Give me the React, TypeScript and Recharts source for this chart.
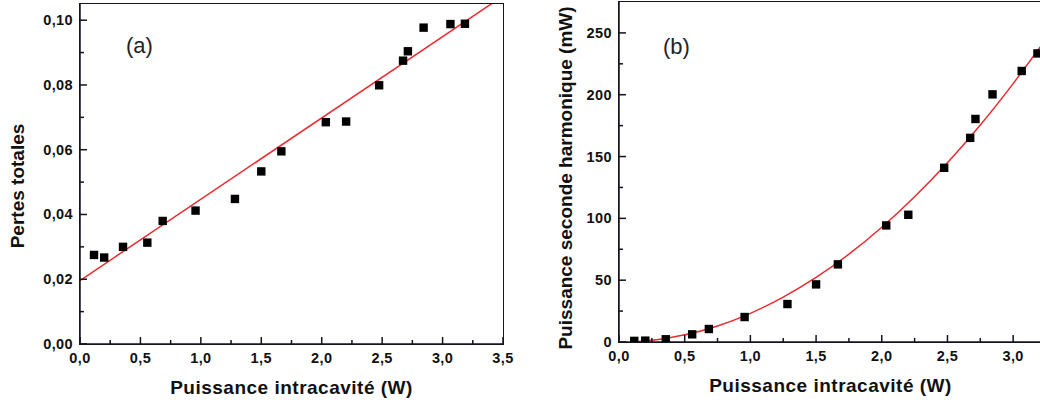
import React from 'react';
import { ComposedChart, XAxis, YAxis, Scatter, Line } from 'recharts';

// Shared intracavity power values (W)
const powerW = [0.116, 0.2, 0.356, 0.557, 0.684, 0.956, 1.282, 1.5, 1.666, 2.034, 2.202, 2.475, 2.673, 2.713, 2.843, 3.065, 3.185];
// (a) total losses
const lossValues = [0.0275, 0.0267, 0.030, 0.0313, 0.038, 0.0412, 0.0448, 0.0533, 0.0595, 0.0685, 0.0687, 0.0799, 0.0875, 0.0904, 0.0977, 0.0988, 0.0989];
// (a) linear fit endpoints
const lossFitX = [0, 3.41];
const lossFitY = [0.0196, 0.1052];
// (b) second harmonic power (mW)
const shgValues = [0.9, 1.1, 2.2, 6.2, 10.5, 20.2, 30.7, 46.6, 62.8, 94.3, 102.9, 140.9, 165.1, 180.4, 200.3, 219.2, 233.4];
// (b) fit curve
const shgFitX = [0.12, 0.3, 0.5, 0.75, 1.0, 1.25, 1.5, 1.75, 2.0, 2.25, 2.5, 2.75, 3.0, 3.25];
const shgFitY = [0.3, 2.1, 5.8, 13, 23.2, 36.3, 52.2, 71, 92.8, 117.5, 145, 175.5, 209, 245];

// ticks
const xTicksA = [0, 0.25, 0.5, 0.75, 1, 1.25, 1.5, 1.75, 2, 2.25, 2.5, 2.75, 3, 3.25, 3.5];
const yTicksA = [0, 0.01, 0.02, 0.03, 0.04, 0.05, 0.06, 0.07, 0.08, 0.09, 0.1];
const xTicksB = [0, 0.25, 0.5, 0.75, 1, 1.25, 1.5, 1.75, 2, 2.25, 2.5, 2.75, 3, 3.25];
const yTicksB = [0, 25, 50, 75, 100, 125, 150, 175, 200, 225, 250];
const domainXA = [0, 3.5];
const domainYA = [0, 0.105];
const domainXB = [0, 3.25];
const domainYB = [0, 275];

const lossData = powerW.map((x, i) => ({ x, y: lossValues[i] }));
const lossFit = lossFitX.map((x, i) => ({ x, y: lossFitY[i] }));
const shgData = powerW.map((x, i) => ({ x, y: shgValues[i] }));
const shgFit = shgFitX.map((x, i) => ({ x, y: shgFitY[i] }));

const FONT = '"Liberation Sans", Arial, sans-serif';
const AXIS = '#141420';
const RED = '#ea2a2e';

const isMajor = (v: number, step: number) => Math.abs(v / step - Math.round(v / step)) < 1e-6;

const makeBottomTick = (step: number, fmt: (v: number) => string) => (props: any) => {
  const { x, y, payload } = props;
  const v = payload.value as number;
  const major = isMajor(v, step);
  const len = major ? 7 : 4;
  return (
    <g>
      <rect x={x - 0.75} y={y - len} width={1.5} height={len} fill={AXIS} />
      {major && (
        <text x={x} y={y + 19} textAnchor="middle" fontFamily={FONT} fontWeight="bold" fontSize={14.5} letterSpacing={0.4} fill="#111">
          {fmt(v)}
        </text>
      )}
    </g>
  );
};

const makeLeftTick = (step: number, fmt: (v: number) => string) => (props: any) => {
  const { x, y, payload } = props;
  const v = payload.value as number;
  const major = isMajor(v, step);
  const len = major ? 7 : 4;
  return (
    <g>
      <rect x={x} y={y - 0.75} width={len} height={1.5} fill={AXIS} />
      {major && (
        <text x={x - 7} y={y + 5} textAnchor="end" fontFamily={FONT} fontWeight="bold" fontSize={14.5} letterSpacing={0.4} fill="#111">
          {fmt(v)}
        </text>
      )}
    </g>
  );
};

const fmtX = (v: number) => v.toFixed(1).replace('.', ',');
const fmtYA = (v: number) => v.toFixed(2).replace('.', ',');
const fmtYB = (v: number) => String(Math.round(v));

const squareShape = (props: any) => {
  const { cx, cy } = props;
  if (cx == null || cy == null) return <g />;
  return <rect x={cx - 4.2} y={cy - 4.2} width={8.4} height={8.4} fill="#000" />;
};

const xTitle = (dxOff: number) => (props: any) => {
  const vb = props.viewBox;
  return (
    <text x={vb.x + vb.width / 2 + dxOff} y={vb.y + 50} textAnchor="middle" fontFamily={FONT} fontWeight="bold" fontSize={19} letterSpacing={0.5} fill="#111">
      Puissance intracavité (W)
    </text>
  );
};

const yTitle = (text: string, cxOff: number, cyOff: number) => (props: any) => {
  const vb = props.viewBox;
  const cx = vb.x + cxOff;
  const cy = vb.y + vb.height / 2 + cyOff;
  return (
    <text x={cx} y={cy} transform={`rotate(-90 ${cx} ${cy})`} textAnchor="middle" dominantBaseline="central" fontFamily={FONT} fontWeight="bold" fontSize={19} fill="#111">
      {text}
    </text>
  );
};

const frameStyle = (left: number, top: number, w: number, h: number): React.CSSProperties => ({
  position: 'absolute',
  left: left - 0.75,
  top: top - 0.75,
  width: w + 1.5,
  height: h + 1.5,
  boxSizing: 'border-box',
  border: `1.5px solid ${AXIS}`,
  pointerEvents: 'none',
});

export default function App() {
  return (
    <div style={{ position: 'fixed', left: 0, top: 0, width: 1040, height: 405, overflow: 'hidden', background: '#fff' }}>
      <div style={{ position: 'absolute', left: 0, top: 0 }}>
        <ComposedChart width={520} height={405} margin={{ top: 4, right: 17, bottom: 0, left: 0 }}>
          <XAxis
            dataKey="x"
            type="number"
            domain={domainXA}
            ticks={xTicksA}
            interval={0}
            height={61}
            tickSize={0}
            tickMargin={0}
            tickLine={false}
            stroke={AXIS}
            axisLine={{ stroke: AXIS, strokeWidth: 1.5 }}
            tick={makeBottomTick(0.5, fmtX)}
            allowDataOverflow
            label={{ content: xTitle(0) }}
          />
          <YAxis
            type="number"
            domain={domainYA}
            ticks={yTicksA}
            interval={0}
            width={80}
            tickSize={0}
            tickMargin={0}
            tickLine={false}
            stroke={AXIS}
            axisLine={{ stroke: AXIS, strokeWidth: 1.5 }}
            tick={makeLeftTick(0.02, fmtYA)}
            allowDataOverflow
            label={{ content: yTitle('Pertes totales', 17, 12) }}
          />
          <Line data={lossFit} dataKey="y" type="linear" stroke={RED} strokeWidth={1.5} dot={false} isAnimationActive={false} />
          <Scatter data={lossData} dataKey="y" shape={squareShape} isAnimationActive={false} />
        </ComposedChart>
      </div>
      <div style={frameStyle(80, 4, 423, 340)} />
      <div style={{ position: 'absolute', left: 540, top: 0 }}>
        <ComposedChart width={506} height={405} margin={{ top: 2, right: 0, bottom: 0, left: 0 }}>
          <XAxis
            dataKey="x"
            type="number"
            domain={domainXB}
            ticks={xTicksB}
            interval={0}
            height={63}
            tickSize={0}
            tickMargin={0}
            tickLine={false}
            stroke={AXIS}
            axisLine={{ stroke: AXIS, strokeWidth: 1.5 }}
            tick={makeBottomTick(0.5, fmtX)}
            allowDataOverflow
            label={{ content: xTitle(-2) }}
          />
          <YAxis
            type="number"
            domain={domainYB}
            ticks={yTicksB}
            interval={0}
            width={79}
            tickSize={0}
            tickMargin={0}
            tickLine={false}
            stroke={AXIS}
            axisLine={{ stroke: AXIS, strokeWidth: 1.5 }}
            tick={makeLeftTick(50, fmtYB)}
            allowDataOverflow
            label={{ content: yTitle('Puissance seconde harmonique (mW)', 25, 6) }}
          />
          <Line data={shgFit} dataKey="y" type="monotone" stroke={RED} strokeWidth={1.5} dot={false} isAnimationActive={false} />
          <Scatter data={shgData} dataKey="y" shape={squareShape} isAnimationActive={false} />
        </ComposedChart>
      </div>
      <div style={frameStyle(619, 2, 427, 340)} />
      <div style={{ position: 'absolute', left: 126, top: 31, fontFamily: FONT, fontSize: 22, color: '#222', lineHeight: '30px' }}>(a)</div>
      <div style={{ position: 'absolute', left: 663, top: 32, fontFamily: FONT, fontSize: 22, color: '#222', lineHeight: '30px' }}>(b)</div>
    </div>
  );
}
